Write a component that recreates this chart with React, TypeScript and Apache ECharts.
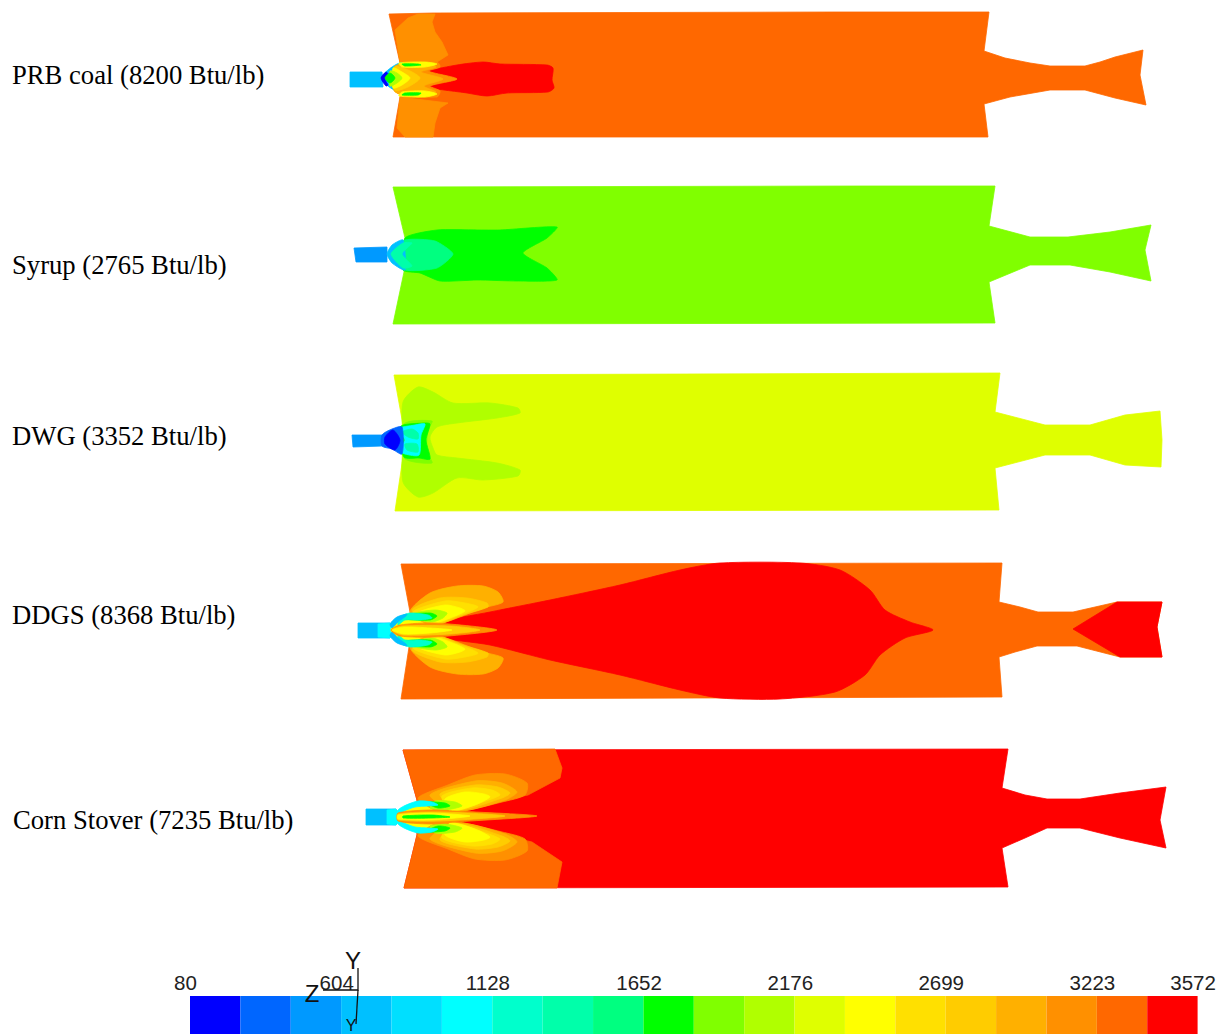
import React, { useEffect, useRef } from "react";
import * as echarts from "echarts";

type Pt = [number, number];
type Layer = [number, Pt[]];

const FONT_SERIF = "Liberation Serif";
const FONT_SANS = "Liberation Sans";

const bandEdges = [80, 254.6, 429.2, 603.8, 778.4, 953, 1127.6, 1302.2, 1476.8, 1651.4, 1826, 2000.6, 2175.2, 2349.8, 2524.4, 2699, 2873.6, 3048.2, 3222.8, 3397.4, 3572];
const bandColors = ["#0000ff", "#0066ff", "#0099ff", "#00c0ff", "#00dfff", "#00ffff", "#00ffcc", "#00ffaa", "#00ff80", "#00ff00", "#80ff00", "#b0ff00", "#dfff00", "#ffff00", "#ffe000", "#ffcc00", "#ffb000", "#ff9000", "#ff6800", "#ff0000"];
const tickValues = [80, 604, 1128, 1652, 2176, 2699, 3223, 3572];

const panelNames = ["PRB coal (8200 Btu/lb)", "Syrup (2765 Btu/lb)", "DWG (3352 Btu/lb)", "DDGS (8368 Btu/lb)", "Corn Stover (7235 Btu/lb)"];
const panelLabelAnchors: Pt[] = [[12, 75], [12, 265], [12, 436], [12, 615], [13, 820]];

const prbBase: Layer[] = [
  [18, [[389, 14], [433, 13], [835, 12], [989, 12], [984, 51], [1005, 58], [1030, 63], [1050, 66], [1085, 66], [1100, 62], [1115, 57], [1143, 50], [1140, 75], [1146, 105], [1115, 98], [1085, 90], [1050, 90], [1010, 97], [984, 104], [988, 137], [393, 137], [400, 97], [400, 63]]],
  [17, [[400, 97], [448, 103], [440, 108], [435, 123], [433, 137], [405, 137], [397, 128]]],
  [17, [[395, 30], [408, 18], [418, 14], [435, 14], [432, 22], [435, 32], [442, 42], [448, 55], [437, 62], [400, 63]]],
  [3, [[350, 72], [382, 72], [383, 87], [350, 87]]],
];
const prbContours: Layer[] = [
  [19, [[430, 71], [457, 65], [483, 62], [500, 64], [547, 65], [553, 68], [552, 80], [554, 88], [548, 92], [507, 93], [487, 96], [467, 93], [430, 87], [457, 79], [438, 75]]],
  [3, [[381, 78], [388, 70], [397, 64], [403, 63], [403, 96], [397, 92], [388, 86]]],
  [0, [[381, 78], [386, 72], [388, 74], [385, 79], [388, 85], [386, 86]]],
  [17, [[397, 66], [437, 62], [440, 67], [428, 71], [457, 79], [430, 86], [440, 91], [437, 97], [397, 93]]],
  [16, [[395, 66], [430, 64], [436, 67], [421, 72], [443, 79], [424, 86], [436, 92], [430, 95], [395, 92]]],
  [15, [[395, 67], [408, 70], [420, 78], [408, 87], [395, 90]]],
  [13, [[393, 68], [402, 72], [410, 78], [402, 85], [393, 88]]],
  [11, [[390, 71], [397, 73], [402, 78], [397, 83], [390, 86]]],
  [9, [[385, 78], [390, 73], [395, 78], [390, 83]]],
  [13, [[399, 63], [425, 62], [437, 64], [425, 67], [402, 67]]],
  [9, [[402, 64], [418, 64], [421, 65], [405, 66]]],
  [13, [[402, 92], [425, 91], [437, 94], [425, 97], [399, 96]]],
  [9, [[405, 93], [421, 93], [418, 95], [402, 95]]],
];

const syrupBase: Layer[] = [
  [10, [[393, 187], [864, 186], [995, 186], [989, 226], [1030, 237], [1068, 237], [1110, 232], [1151, 225], [1145, 250], [1151, 281], [1110, 272], [1070, 265], [1030, 265], [989, 282], [995, 323], [393, 324], [404, 272], [405, 238]]],
  [2, [[354, 248], [387, 247], [387, 262], [356, 262]]],
];
const syrupContours: Layer[] = [
  [9, [[405, 238], [437, 230], [477, 230], [500, 230], [557, 227], [547, 238], [523, 253], [547, 268], [557, 280], [517, 281], [477, 280], [440, 281], [420, 273], [403, 270]]],
  [8, [[390, 254], [405, 240], [435, 241], [453, 254], [437, 268], [405, 270]]],
  [3, [[387, 254], [392, 245], [403, 240], [405, 270], [392, 263]]],
  [7, [[391, 254], [403, 243], [412, 243], [402, 254], [412, 266], [403, 268]]],
];

const dwgBase: Layer[] = [
  [12, [[394, 375], [1000, 373], [995, 412], [1045, 425], [1090, 425], [1125, 415], [1160, 411], [1162, 440], [1161, 467], [1125, 465], [1090, 455], [1045, 455], [995, 468], [999, 510], [395, 511], [403, 457], [403, 425]]],
  [2, [[352, 435], [383, 435], [383, 446], [353, 447]]],
];
const dwgContours: Layer[] = [
  [11, [[403, 402], [418, 387], [433, 392], [453, 403], [490, 403], [518, 408], [520, 413], [497, 418], [457, 423], [437, 427], [430, 437], [433, 448], [437, 455], [457, 458], [497, 463], [520, 470], [518, 476], [483, 480], [457, 478], [433, 493], [418, 497], [403, 482], [403, 440]]],
  [10, [[404, 424], [432, 421], [428, 430], [427, 452], [432, 463], [404, 458]]],
  [9, [[400, 427], [424, 423], [430, 424], [426, 440], [430, 459], [419, 458], [404, 457]]],
  [5, [[398, 429], [415, 425], [425, 424], [421, 435], [419, 455], [405, 454], [399, 450], [405, 440]]],
  [7, [[402, 432], [412, 429], [418, 433], [418, 439], [408, 437]]],
  [7, [[405, 444], [417, 444], [418, 452], [407, 450]]],
  [1, [[382, 435], [392, 429], [402, 427], [402, 454], [392, 449], [382, 446]]],
  [0, [[385, 437], [393, 430], [400, 440], [395, 450], [385, 444]]],
];

const ddgsBase: Layer[] = [
  [18, [[401, 564], [1002, 563], [999, 602], [1020, 607], [1038, 612], [1073, 612], [1095, 607], [1117, 602], [1162, 602], [1157, 627], [1162, 657], [1120, 657], [1077, 646], [1037, 646], [1015, 652], [999, 657], [1002, 697], [401, 699], [409, 647], [410, 612]]],
  [19, [[1073, 629], [1117, 602], [1162, 602], [1157, 627], [1162, 657], [1120, 657]]],
  [3, [[358, 623], [390, 623], [392, 630], [390, 638], [358, 638]]],
  [5, [[378, 624], [390, 623], [392, 630], [390, 638], [378, 637]]],
];
const ddgsContours: Layer[] = [
  [19, [[435, 624], [490, 612], [550, 600], [620, 585], [680, 570], [720, 563], [800, 563], [840, 570], [870, 590], [885, 610], [910, 622], [933, 630], [905, 638], [880, 655], [865, 675], [835, 692], [780, 699], [720, 698], [680, 690], [620, 675], [550, 660], [490, 645], [435, 636]]],
  [13, [[391, 630], [399, 619], [420, 618], [435, 624], [435, 636], [420, 642], [399, 641]]],
  [16, [[410, 612], [430, 593], [457, 586], [483, 586], [498, 592], [503, 602], [483, 608], [433, 625]]],
  [15, [[412, 610], [440, 598], [467, 598], [487, 603], [488, 607], [463, 615], [433, 625]]],
  [14, [[413, 612], [445, 601], [465, 603], [478, 607], [455, 617], [433, 624]]],
  [13, [[418, 613], [445, 605], [460, 608], [465, 611], [450, 618], [433, 623]]],
  [11, [[412, 614], [435, 610], [447, 613], [443, 618], [432, 622], [420, 620]]],
  [9, [[405, 615], [430, 613], [437, 616], [430, 620], [405, 619]]],
  [6, [[400, 617], [410, 613], [428, 615], [432, 618], [420, 620], [405, 620], [398, 625]]],
  [3, [[390, 624], [397, 617], [407, 614], [406, 616], [398, 622], [392, 628]]],
  [16, [[410, 647], [430, 667], [457, 674], [483, 674], [498, 668], [503, 658], [483, 652], [433, 635]]],
  [15, [[412, 650], [440, 662], [467, 662], [487, 657], [488, 653], [463, 645], [433, 635]]],
  [14, [[413, 648], [445, 659], [465, 657], [478, 653], [455, 643], [433, 636]]],
  [13, [[418, 647], [445, 655], [460, 652], [465, 649], [450, 642], [433, 637]]],
  [11, [[412, 646], [435, 650], [447, 647], [443, 642], [432, 638], [420, 640]]],
  [9, [[405, 645], [430, 647], [437, 644], [430, 640], [405, 641]]],
  [6, [[400, 643], [410, 647], [428, 645], [432, 642], [420, 640], [405, 640], [398, 635]]],
  [3, [[390, 636], [397, 643], [407, 646], [406, 644], [398, 638], [392, 632]]],
  [17, [[391, 630], [400, 625], [435, 623], [497, 630], [435, 637], [400, 636]]],
  [15, [[392, 630], [402, 626], [450, 626], [480, 630], [450, 634], [402, 635]]],
  [13, [[392, 630], [404, 627], [430, 628], [452, 630], [430, 633], [404, 634]]],
];

const cornBase: Layer[] = [
  [19, [[403, 750], [1008, 749], [1002, 788], [1025, 795], [1047, 799], [1080, 799], [1120, 793], [1166, 787], [1160, 820], [1166, 848], [1120, 838], [1080, 828], [1047, 828], [1025, 838], [1002, 848], [1008, 887], [404, 888], [417, 835], [417, 800]]],
  [18, [[403, 750], [555, 749], [562, 768], [560, 778], [528, 795], [452, 811], [452, 823], [532, 842], [562, 862], [557, 888], [404, 888], [417, 835], [417, 800]]],
  [3, [[366, 809], [396, 809], [399, 817], [396, 825], [366, 825]]],
  [5, [[387, 810], [396, 809], [399, 817], [396, 825], [387, 824]]],
];
const cornContours: Layer[] = [
  [13, [[398, 817], [405, 808], [430, 805], [452, 811], [452, 823], [430, 829], [405, 826]]],
  [17, [[418, 798], [448, 785], [475, 775], [505, 774], [527, 783], [525, 795], [502, 802], [458, 812], [435, 810]]],
  [17, [[418, 836], [448, 849], [475, 859], [505, 860], [527, 851], [525, 839], [502, 832], [458, 822], [435, 824]]],
  [16, [[430, 795], [475, 781], [502, 783], [517, 792], [505, 800], [458, 811]]],
  [16, [[430, 839], [475, 853], [502, 851], [517, 842], [505, 834], [458, 823]]],
  [15, [[440, 794], [475, 785], [498, 787], [510, 793], [502, 798], [458, 810]]],
  [15, [[440, 840], [475, 849], [498, 847], [510, 841], [502, 836], [458, 824]]],
  [14, [[442, 796], [472, 788], [492, 790], [500, 795], [480, 803], [452, 811]]],
  [14, [[442, 838], [472, 846], [492, 844], [500, 839], [480, 831], [452, 823]]],
  [13, [[445, 799], [465, 792], [484, 794], [490, 797], [475, 805], [450, 811]]],
  [13, [[445, 835], [465, 842], [484, 840], [490, 837], [475, 829], [450, 823]]],
  [11, [[435, 801], [455, 802], [462, 806], [445, 810], [430, 808]]],
  [11, [[435, 833], [455, 832], [462, 828], [445, 824], [430, 826]]],
  [9, [[425, 802], [445, 803], [450, 806], [438, 808]]],
  [9, [[425, 832], [445, 831], [450, 828], [438, 826]]],
  [5, [[397, 811], [404, 806], [418, 801], [432, 802], [438, 805], [428, 806], [415, 807], [404, 811], [399, 814]]],
  [5, [[397, 823], [404, 828], [418, 833], [432, 832], [438, 829], [428, 828], [415, 827], [404, 823], [399, 820]]],
  [17, [[398, 813], [430, 810], [455, 811], [537, 816], [455, 822], [430, 824], [398, 821]]],
  [15, [[398, 814], [440, 812], [505, 816], [440, 821], [398, 820]]],
  [13, [[398, 815], [430, 813], [470, 816], [430, 820], [398, 819]]],
  [9, [[403, 816], [432, 815], [450, 817], [432, 818], [403, 818]]],
];

const triadLines: Pt[][] = [
  [[358, 968], [358, 990], [323, 990]],
  [[358, 990], [356, 1024]],
];
const triadLetters: [string, number, number, number][] = [["Y", 353, 960, 24], ["Z", 312, 993, 24], ["Y", 351, 1025, 16]];

function contourSeries(layers: Layer[], smooth: number) {
  return {
    type: "custom",
    coordinateSystem: "cartesian2d",
    xAxisIndex: 0,
    yAxisIndex: 0,
    silent: true,
    clip: false,
    data: layers.map((_, i) => [i]),
    encode: { x: [], y: [] },
    renderItem: (params: any, api: any) => {
      const [level, pts] = layers[params.dataIndex];
      const fill = bandColors[level];
      return {
        type: "polygon",
        shape: { points: pts.map((p) => api.coord(p)), smooth },
        style: { fill, stroke: fill, lineWidth: 0.8 },
      };
    },
  };
}

export default function App() {
  const ref = useRef<HTMLDivElement>(null);
  useEffect(() => {
    document.body.style.margin = "0";
    const chart = echarts.init(ref.current!, null, { renderer: "svg" });
    const bands = bandColors.map((_, i) => [bandEdges[i], bandEdges[i + 1], i]);
    chart.setOption({
      animation: false,
      backgroundColor: "#ffffff",
      grid: [
        { left: 0, top: 0, width: 1222, height: 1034 },
        { left: 190, top: 996, width: 1007.6, height: 38 },
      ],
      xAxis: [
        { type: "value", gridIndex: 0, min: 0, max: 1222, show: false },
        {
          type: "value",
          gridIndex: 1,
          min: 80,
          max: 3572,
          position: "top",
          axisLine: { show: false },
          axisTick: { show: false },
          splitLine: { show: false },
          axisLabel: {
            customValues: tickValues,
            formatter: (v: number) => String(v),
            fontFamily: FONT_SANS,
            fontSize: 20.5,
            color: "#222222",
            margin: 3,
            padding: [0, 9, 0, 0],
            showMinLabel: true,
            showMaxLabel: true,
            hideOverlap: false,
          },
        },
      ],
      yAxis: [
        { type: "value", gridIndex: 0, min: 0, max: 1034, inverse: true, show: false },
        { type: "value", gridIndex: 1, min: 0, max: 1, show: false },
      ],
      series: [
        contourSeries(prbBase, 0),
        contourSeries(prbContours, 0.25),
        contourSeries(syrupBase, 0),
        contourSeries(syrupContours, 0.2),
        contourSeries(dwgBase, 0),
        contourSeries(dwgContours, 0.25),
        contourSeries(ddgsBase, 0),
        contourSeries(ddgsContours, 0.25),
        contourSeries(cornBase, 0),
        contourSeries(cornContours, 0.25),
        {
          type: "custom",
          coordinateSystem: "cartesian2d",
          xAxisIndex: 1,
          yAxisIndex: 1,
          silent: true,
          data: bands,
          encode: { x: [0, 1] },
          renderItem: (_: any, api: any) => {
            const a = api.coord([api.value(0), 1]);
            const b = api.coord([api.value(1), 0]);
            const fill = bandColors[api.value(2)];
            return {
              type: "rect",
              shape: { x: a[0], y: a[1], width: b[0] - a[0], height: b[1] - a[1] },
              style: { fill },
            };
          },
        },
        {
          type: "custom",
          coordinateSystem: "cartesian2d",
          xAxisIndex: 0,
          yAxisIndex: 0,
          silent: true,
          clip: false,
          z: 5,
          data: panelNames.map((_, i) => [i]),
          encode: { x: [], y: [] },
          renderItem: (params: any, api: any) => {
            const p = api.coord(panelLabelAnchors[params.dataIndex]);
            return {
              type: "text",
              x: p[0],
              y: p[1],
              style: {
                text: panelNames[params.dataIndex],
                fontFamily: FONT_SERIF,
                fontSize: 26.65,
                fill: "#000000",
                verticalAlign: "middle",
                align: "left",
              },
            };
          },
        },
        {
          type: "custom",
          coordinateSystem: "cartesian2d",
          xAxisIndex: 0,
          yAxisIndex: 0,
          silent: true,
          clip: false,
          z: 6,
          data: triadLines.map((_, i) => [i]),
          encode: { x: [], y: [] },
          renderItem: (params: any, api: any) => ({
            type: "polyline",
            shape: { points: triadLines[params.dataIndex].map((p) => api.coord(p)) },
            style: { stroke: "#111111", lineWidth: 1.3, fill: "none" },
          }),
        },
        {
          type: "custom",
          coordinateSystem: "cartesian2d",
          xAxisIndex: 0,
          yAxisIndex: 0,
          silent: true,
          clip: false,
          z: 6,
          data: triadLetters.map((_, i) => [i]),
          encode: { x: [], y: [] },
          renderItem: (params: any, api: any) => {
            const [t, x, y, size] = triadLetters[params.dataIndex];
            const p = api.coord([x, y]);
            return {
              type: "text",
              x: p[0],
              y: p[1],
              style: { text: t, fontFamily: FONT_SANS, fontSize: size, fill: "#111111", align: "center", verticalAlign: "middle" },
            };
          },
        },
      ],
    });
    return () => chart.dispose();
  }, []);
  return <div ref={ref} style={{ width: 1222, height: 1034 }} />;
}
